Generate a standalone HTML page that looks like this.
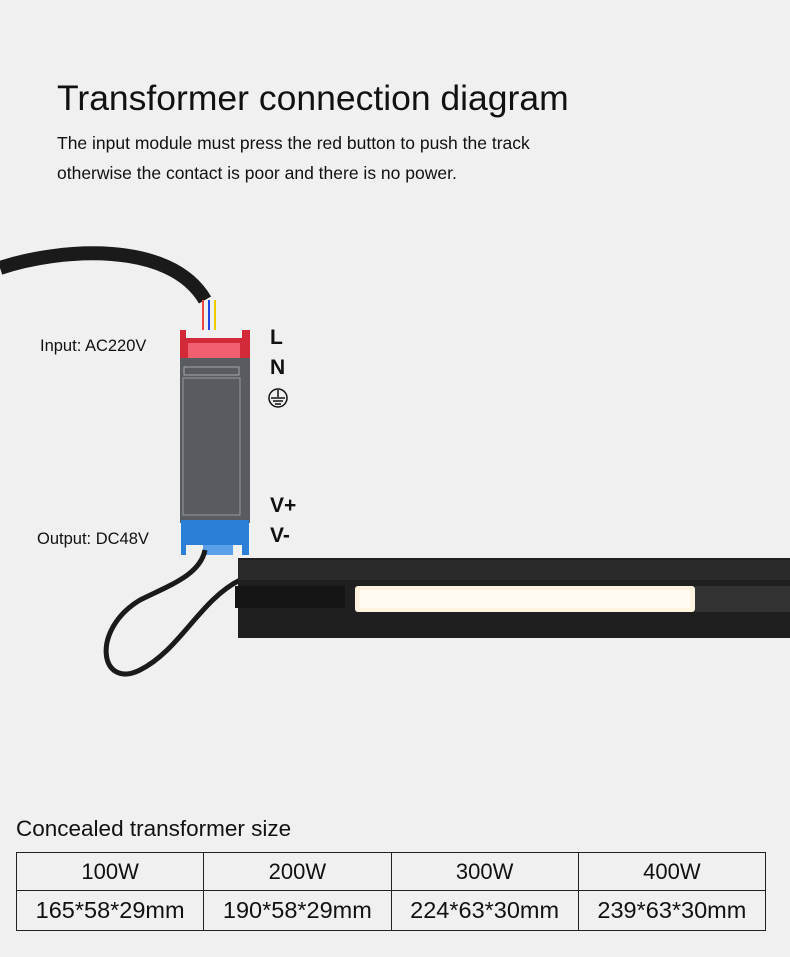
<!DOCTYPE html>
<html><head><meta charset="utf-8"><style>
body{margin:0;width:790px;height:957px;background:#f0f0f0;position:relative;overflow:hidden;font-family:"Liberation Sans",sans-serif;color:#111}
.a{position:absolute;white-space:nowrap}
table{position:absolute;left:16px;top:852px;border-collapse:collapse;width:750px;table-layout:fixed}
td{border:1.3px solid #222;text-align:center;font-size:22px;height:37px;padding:0}
tr+tr td{font-size:23.5px;height:39px}
</style></head><body>
<div class="a" style="left:57px;top:78px;font-size:35.5px">Transformer connection diagram</div>
<div class="a" style="left:57px;top:133px;font-size:17.5px">The input module must press the red button to push the track</div>
<div class="a" style="left:57px;top:163px;font-size:17.5px">otherwise the contact is poor and there is no power.</div>
<div class="a" style="left:40px;top:337px;font-size:16.5px">Input: AC220V</div>
<div class="a" style="left:37px;top:530px;font-size:16.5px">Output: DC48V</div>
<div class="a" style="left:270px;top:326px;font-size:21px;font-weight:bold">L</div>
<div class="a" style="left:270px;top:356px;font-size:21px;font-weight:bold">N</div>
<div class="a" style="left:270px;top:494px;font-size:21px;font-weight:bold">V+</div>
<div class="a" style="left:270px;top:524px;font-size:21px;font-weight:bold">V-</div>
<svg class="a" style="left:0;top:0" width="790" height="800">
<path d="M0 268 C60 248 170 240 205 300" stroke="#1a1a1a" stroke-width="14" fill="none"/>
<path d="M203 300 L203 330" stroke="#e44" stroke-width="2"/>
<path d="M209 300 L209 330" stroke="#24d" stroke-width="2"/><path d="M215 300 L215 330" stroke="#ec0" stroke-width="2"/>
<circle cx="278" cy="398" r="9" fill="none" stroke="#111" stroke-width="1.5"/>
<path d="M278 390 V397 M271 398 H285 M273 401 H283 M275 404 H281" stroke="#111" stroke-width="1.5"/>
<rect x="180" y="330" width="70" height="30" fill="#d32a3a"/>
<rect x="186" y="330" width="56" height="8" fill="#f0f0f0"/>
<rect x="188" y="343" width="52" height="17" fill="#f06070"/>
<rect x="180" y="358" width="70" height="165" fill="#585b60"/>
<rect x="184" y="367" width="55" height="8" fill="none" stroke="#bbb" stroke-width="0.8"/>
<rect x="183" y="378" width="57" height="137" fill="none" stroke="#aaa" stroke-width="0.8"/>
<rect x="181" y="520" width="68" height="35" fill="#2a7fd6"/>
<rect x="186" y="545" width="56" height="10" fill="#f0f0f0"/>
<rect x="203" y="545" width="30" height="10" fill="#5aa0e8"/>
<path d="M205 550 C200 575 170 585 140 600 C90 630 100 690 140 670 C180 650 200 600 240 580" stroke="#1a1a1a" stroke-width="5" fill="none"/>
<rect x="238" y="558" width="552" height="80" fill="#1f1f1f"/>
<rect x="238" y="560" width="552" height="20" fill="#2a2a2a"/>
<rect x="235" y="586" width="110" height="22" fill="#151515"/>
<rect x="355" y="586" width="340" height="26" rx="3" fill="#fff2df"/>
<rect x="360" y="590" width="330" height="18" fill="#fffaf2"/>
<rect x="695" y="586" width="95" height="26" fill="#333"/>
</svg>
<div class="a" style="left:16px;top:816px;font-size:22.5px">Concealed transformer size</div>
<table><tr><td>100W</td><td>200W</td><td>300W</td><td>400W</td></tr>
<tr><td>165*58*29mm</td><td>190*58*29mm</td><td>224*63*30mm</td><td>239*63*30mm</td></tr></table>
</body></html>
